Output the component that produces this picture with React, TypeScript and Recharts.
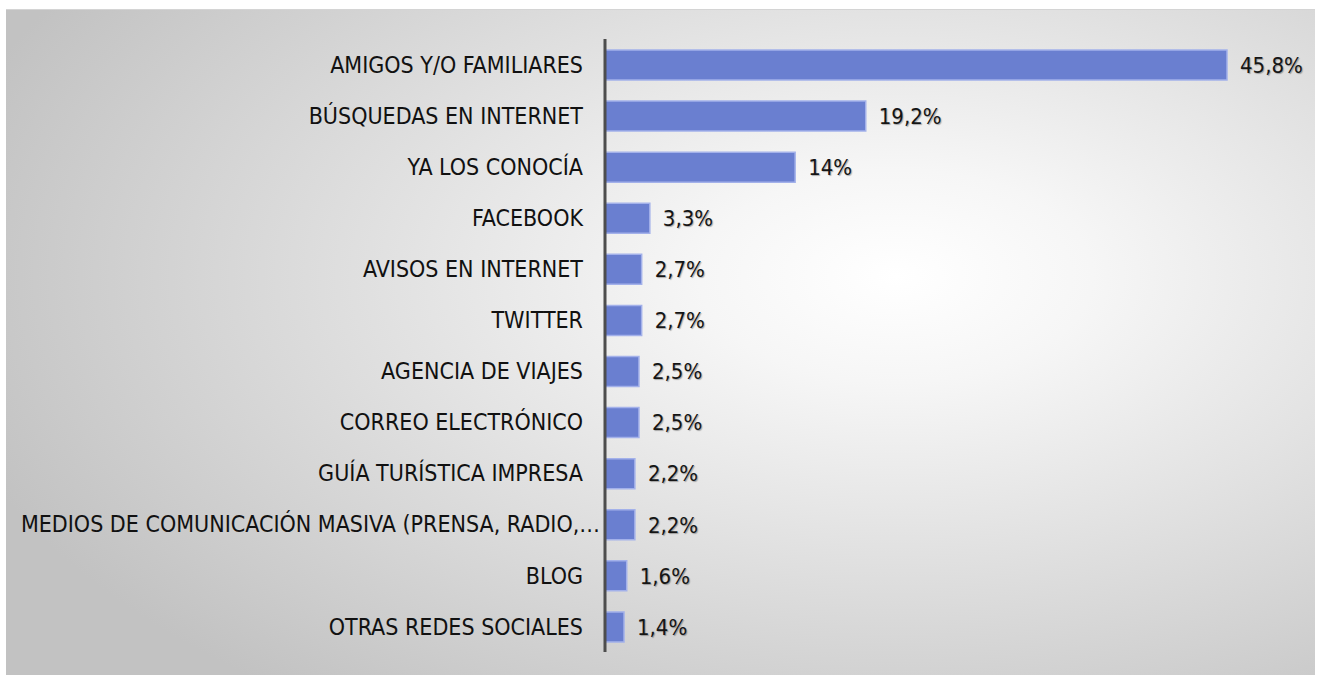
import React from "react";
import { BarChart, Bar, XAxis, YAxis, LabelList } from "recharts";

const categories = [
  "AMIGOS Y/O FAMILIARES",
  "BÚSQUEDAS EN INTERNET",
  "YA LOS CONOCÍA",
  "FACEBOOK",
  "AVISOS EN INTERNET",
  "TWITTER",
  "AGENCIA DE VIAJES",
  "CORREO ELECTRÓNICO",
  "GUÍA TURÍSTICA IMPRESA",
  "MEDIOS DE COMUNICACIÓN MASIVA (PRENSA, RADIO,…",
  "BLOG",
  "OTRAS REDES SOCIALES",
];
const values = [45.8, 19.2, 14, 3.3, 2.7, 2.7, 2.5, 2.5, 2.2, 2.2, 1.6, 1.4];

const data = categories.map((name, i) => ({ name, value: values[i] }));

const FONT = "'Liberation Sans Narrow', 'DejaVu Sans Condensed', 'Open Sans', sans-serif";

const fmt = (v: number) => String(v).replace(".", ",") + "%";

const CategoryTick = (props: any) => {
  const { x, y, payload } = props;
  const label = String(payload.value);
  const long = label.length > 30;
  return (
    <text
      x={x - (long ? 5 : 22)}
      y={y}
      dy="0.355em"
      textAnchor="end"
      fill="#111111"
      fontSize={23}
      fontFamily={FONT}
    >
      {label}
    </text>
  );
};

export default function App() {
  return (
    <div
      style={{
        position: "absolute",
        left: 6,
        top: 9,
        width: 1309,
        height: 666,
        boxSizing: "border-box",
        borderTop: "1px solid #d4d4d4",
        background:
          "radial-gradient(ellipse 75% 80% at 68% 40%, #ffffff 0%, #f6f6f6 20%, #c2c2c2 100%)",
      }}
    >
      <BarChart
        width={1309}
        height={666}
        data={data}
        layout="vertical"
        margin={{ top: 29, right: 88, bottom: 24, left: 0 }}
        barSize={30}
      >
        <XAxis type="number" hide domain={[0, 45.8]} />
        <YAxis
          type="category"
          dataKey="name"
          width={599}
          tickSize={0}
          tickMargin={0}
          axisLine={{ stroke: "#4d4d4d", strokeWidth: 3 }}
          tickLine={false}
          interval={0}
          tick={<CategoryTick />}
        />
        <Bar
          dataKey="value"
          fill="#6a7fd0"
          stroke="#a3b1ea"
          strokeWidth={1.5}
          isAnimationActive={false}
        >
          <LabelList
            dataKey="value"
            position="right"
            offset={13}
            formatter={(v: any) => fmt(Number(v))}
            style={{
              fill: "#151515",
              fontSize: 22,
              fontWeight: 500,
              fontFamily: FONT,
              textShadow: "1px 1px 1px rgba(0,0,0,0.3)",
            }}
          />
        </Bar>
      </BarChart>
    </div>
  );
}
